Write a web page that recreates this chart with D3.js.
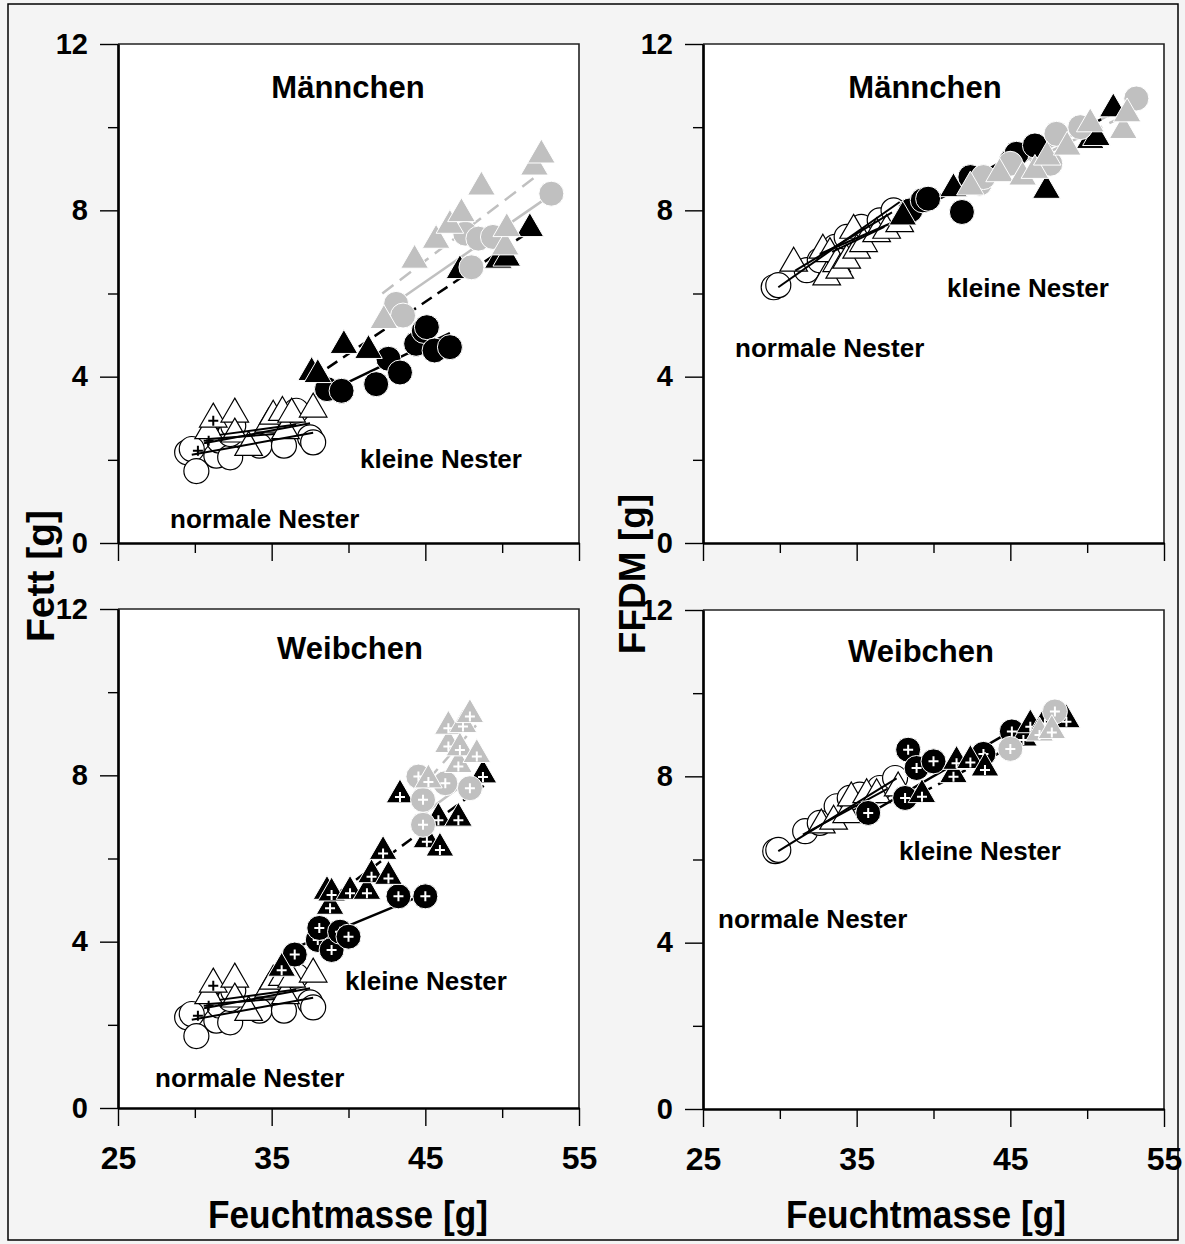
<!DOCTYPE html>
<html>
<head>
<meta charset="utf-8">
<script src="https://cdn.jsdelivr.net/npm/d3@7"></script>
<style>
  body { margin: 0; background: #f4f4f4; }
  svg text { font-family: "Liberation Sans", Arial, sans-serif; font-weight: bold; fill: #000; }
</style>
</head>
<body>
<svg id="chart" width="1185" height="1244"></svg>
<script>
// axis ticks
const xTicks = [25, 35, 45, 55];
const xMinor = [30, 40, 50];
const yTicks = [0, 4, 8, 12];
const yMinor = [2, 6, 10];

// ---- Männchen, Fett ----
const mFettNormCircles = [[29.5,2.18],[29.8,2.26],[30.1,1.73],[31.4,2.1],[31.6,2.46],[32.3,2.06],[32.3,2.62],[32.5,2.82],[34.2,2.34],[35.8,2.34],[36.6,3.18],[37.5,2.54],[37.7,2.42]];
const mFettNormTriangles = [[30.9,2.7],[31.2,2.98],[32.6,3.1],[32.6,2.62],[33.5,2.3],[34.8,2.86],[35.1,3.05],[35.7,3.14],[35.9,2.7],[36.3,3.1],[37.7,3.22]];
const mFettNormCrosses = [[30.2,2.22],[30.9,2.46],[31.2,2.94]];
const mFettNormLines = [[29.8,2.12,37.7,2.65],[30.6,2.4,37.5,2.88],[31.6,2.6,36.6,2.85],[30.9,2.5,35.2,2.62]];
const mFettBlackCircles = [[38.6,3.7],[39.55,3.66],[41.8,3.82],[42.6,4.43],[43.35,4.1],[44.4,4.79],[44.9,5.1],[45.1,5.19],[45.6,4.63],[46.6,4.71]];
const mFettBlackTriangles = [[37.6,4.1],[38.0,4.05],[39.7,4.75],[41.3,4.63],[47.25,6.55],[49.75,6.8],[50.3,6.85],[51.8,7.56]];
const mFettGrayCircles = [[43.1,5.75],[43.55,5.47],[47.6,7.44],[48.0,6.63],[48.45,7.32],[49.4,7.36],[53.2,8.4]];
const mFettGrayTriangles = [[42.3,5.35],[44.3,6.8],[45.7,7.28],[46.6,7.64],[47.35,7.92],[48.65,8.56],[50.2,7.12],[50.3,7.56],[52.1,9.04],[52.55,9.33]];
const mFettBlackCircleLine = [38.6,3.62,46.6,5.05];
const mFettBlackTriangleLine = [37.6,3.95,51.6,7.45];
const mFettGrayCircleLine = [43.5,5.9,52.9,8.3];
const mFettGrayTriangleLine = [42.2,6.0,52.5,8.9];

// ---- Männchen, FFDM ----
const mFfdmNormCircles = [[29.6,6.15],[29.9,6.2],[31.75,6.56],[32.6,6.8],[33.6,7.12],[34.35,7.36],[35.3,7.6],[36.5,7.76],[37.4,8.0]];
const mFfdmNormTriangles = [[30.9,6.73],[32.8,7.04],[33.05,6.4],[33.26,6.96],[33.7,6.72],[33.9,6.56],[34.35,6.8],[34.8,7.52],[35.0,7.04],[35.45,7.2],[36.3,7.44],[36.95,7.52],[37.8,7.68]];
const mFfdmNormLines = [[29.9,6.15,37.8,8.2],[31.0,6.55,37.3,7.95],[32.6,6.95,37.6,7.75],[33.4,7.0,36.8,7.6]];
const mFfdmBlackCircles = [[38.5,8.0],[39.3,8.24],[39.65,8.28],[41.85,7.96],[42.4,8.8],[45.1,9.2],[45.4,9.36],[46.6,9.56]];
const mFfdmBlackTriangles = [[38.0,7.84],[41.3,8.52],[45.0,9.04],[47.35,8.48],[50.2,9.68],[50.6,9.75],[51.7,10.44]];
const mFfdmGrayCircles = [[43.0,8.64],[43.25,8.8],[45.0,9.12],[47.6,9.12],[48.0,9.84],[49.55,10.0],[53.2,10.69]];
const mFfdmGrayTriangles = [[42.4,8.56],[44.3,8.88],[45.8,8.8],[46.6,8.96],[47.4,9.28],[48.7,9.52],[50.2,10.08],[52.35,9.92],[52.6,10.32]];
const mFfdmBlackCircleLine = [38.4,7.95,46.6,9.6];
const mFfdmBlackTriangleLine = [38.0,7.85,51.8,10.35];
const mFfdmGrayCircleLine = [43.0,8.6,53.2,10.65];
const mFfdmGrayTriangleLine = [42.4,8.5,52.6,10.3];

// ---- Weibchen, Fett (normal nests drawn the same as in the Männchen plot) ----
const fFettBlackCircles = [[36.5,3.69],[38.0,4.04],[38.1,4.33],[38.9,3.8],[39.45,4.24],[40.0,4.12],[43.25,5.09],[45.0,5.09]];
const fFettBlackTriangles = [[35.65,3.36],[38.6,5.21],[38.8,4.85],[38.9,5.17],[40.1,5.21],[41.2,5.21],[41.5,5.61],[42.25,6.17],[42.6,5.57],[43.35,7.53],[45.1,6.45],[45.85,6.97],[45.95,6.25],[47.15,6.97],[48.75,8.01]];
const fFettGrayCircles = [[44.55,7.97],[44.85,7.41],[44.85,6.81],[46.3,7.81],[47.9,7.69]];
const fFettGrayTriangles = [[45.2,7.89],[46.5,8.74],[46.5,9.18],[47.15,8.26],[47.25,8.66],[47.45,9.22],[47.9,9.46],[48.35,8.5]];
const fFettBlackCircleLine = [36.5,3.85,45.0,5.15];
const fFettBlackTriangleLine = [38.5,4.95,48.8,7.75];
const fFettGrayCircleLine = [44.6,7.0,47.9,7.9];
const fFettGrayTriangleLine = [45.2,7.9,48.3,9.2];

// ---- Weibchen, FFDM ----
const fFfdmNormCircles = [[29.7,6.2],[29.9,6.23],[31.65,6.68],[32.6,6.88],[33.7,7.28],[34.55,7.48],[35.2,7.56],[36.5,7.72],[37.5,7.96]];
const fFfdmNormTriangles = [[32.7,6.83],[33.5,6.92],[34.35,7.08],[34.65,7.48],[35.65,7.56],[36.3,7.56],[37.7,7.72]];
const fFfdmNormLines = [[29.9,6.2,37.6,7.95],[31.5,6.6,37.0,7.7]];
const fFfdmBlackCircles = [[35.75,7.12],[38.15,7.48],[38.35,8.64],[38.9,8.2],[40.0,8.36],[43.25,8.54],[45.1,9.08]];
const fFfdmBlackTriangles = [[39.25,7.56],[41.3,8.04],[41.5,8.36],[42.4,8.38],[43.35,8.2],[45.85,8.92],[46.3,9.24],[47.25,9.32],[48.65,9.36]];
const fFfdmGrayCircles = [[45.0,8.66],[47.9,9.56]];
const fFfdmGrayTriangles = [[46.9,9.04],[47.7,9.1]];
const fFfdmBlackCircleLine = [35.8,7.1,45.1,9.1];
const fFfdmBlackTriangleLine = [39.2,7.6,48.7,9.4];
const fFfdmGrayCircleLine = [45.0,8.7,47.9,9.5];
const fFfdmGrayTriangleLine = [45.5,8.7,48.2,9.2];

const GRAY = '#c0c0c0';

const svg = d3.select('#chart');

// page background and outer frame
svg.append('rect').attr('width', 1185).attr('height', 1244).attr('fill', '#f4f4f4');
svg.append('rect').attr('x', 8).attr('y', 4).attr('width', 1170).attr('height', 1236)
  .attr('fill', 'none').attr('stroke', '#000').attr('stroke-width', 1.5);

const panels = [
  { left: 118, right: 579, top: 44, bottom: 543, title: 'Männchen', showX: false,
    titlePos: [230, 54], smallPos: [242, 424], normPos: [52, 484], plus: false,
    normCircles: mFettNormCircles, normTriangles: mFettNormTriangles, normCrosses: mFettNormCrosses, normLines: mFettNormLines,
    blackCircles: mFettBlackCircles, blackTriangles: mFettBlackTriangles, grayCircles: mFettGrayCircles, grayTriangles: mFettGrayTriangles,
    lines: [mFettGrayCircleLine, mFettGrayTriangleLine, mFettBlackCircleLine, mFettBlackTriangleLine] },
  { left: 703, right: 1164, top: 44, bottom: 543, title: 'Männchen', showX: false,
    titlePos: [222, 54], smallPos: [244, 253], normPos: [32, 313], plus: false,
    normCircles: mFfdmNormCircles, normTriangles: mFfdmNormTriangles, normCrosses: [], normLines: mFfdmNormLines,
    blackCircles: mFfdmBlackCircles, blackTriangles: mFfdmBlackTriangles, grayCircles: mFfdmGrayCircles, grayTriangles: mFfdmGrayTriangles,
    lines: [mFfdmGrayCircleLine, mFfdmGrayTriangleLine, mFfdmBlackCircleLine, mFfdmBlackTriangleLine] },
  { left: 118, right: 579, top: 609, bottom: 1108, title: 'Weibchen', showX: true,
    titlePos: [232, 50], smallPos: [227, 381], normPos: [37, 478], plus: true,
    normCircles: mFettNormCircles, normTriangles: mFettNormTriangles, normCrosses: mFettNormCrosses, normLines: mFettNormLines,
    blackCircles: fFettBlackCircles, blackTriangles: fFettBlackTriangles, grayCircles: fFettGrayCircles, grayTriangles: fFettGrayTriangles,
    lines: [fFettGrayCircleLine, fFettGrayTriangleLine, fFettBlackCircleLine, fFettBlackTriangleLine] },
  { left: 703, right: 1164, top: 610, bottom: 1109, title: 'Weibchen', showX: true,
    titlePos: [218, 52], smallPos: [196, 250], normPos: [15, 318], plus: true,
    normCircles: fFfdmNormCircles, normTriangles: fFfdmNormTriangles, normCrosses: [], normLines: fFfdmNormLines,
    blackCircles: fFfdmBlackCircles, blackTriangles: fFfdmBlackTriangles, grayCircles: fFfdmGrayCircles, grayTriangles: fFfdmGrayTriangles,
    lines: [fFfdmGrayCircleLine, fFfdmGrayTriangleLine, fFfdmBlackCircleLine, fFfdmBlackTriangleLine] }
];

// style for the four small-nest regression lines (gray solid, gray dashed, black solid, black dashed)
const lineStyles = [
  { stroke: GRAY, dash: null },
  { stroke: GRAY, dash: '14,8' },
  { stroke: '#000', dash: null },
  { stroke: '#000', dash: '12,7' }
];

const tri = d3.symbol().type(d3.symbolTriangle).size(330);

panels.forEach(drawPanel);

function drawPanel(p) {
  const x = d3.scaleLinear().domain([25, 55]).range([p.left, p.right]);
  const y = d3.scaleLinear().domain([0, 12]).range([p.bottom, p.top]);
  const g = svg.append('g');

  // plot area
  g.append('rect').attr('x', p.left).attr('y', p.top)
    .attr('width', p.right - p.left).attr('height', p.bottom - p.top).attr('fill', '#fff');
  g.append('path')
    .attr('d', `M${p.left},${p.top}H${p.right}V${p.bottom}`)
    .attr('fill', 'none').attr('stroke', '#222').attr('stroke-width', 1.6);

  const plot = g.append('g');

  // normal nests: open markers
  plot.selectAll('.nc').data(p.normCircles).join('circle')
    .attr('cx', d => x(d[0])).attr('cy', d => y(d[1])).attr('r', 12.5)
    .attr('fill', '#fff').attr('stroke', '#000').attr('stroke-width', 1.2);
  plot.selectAll('.nt').data(p.normTriangles).join('path')
    .attr('transform', d => `translate(${x(d[0])},${y(d[1])})`).attr('d', tri)
    .attr('fill', '#fff').attr('stroke', '#000').attr('stroke-width', 1.2);
  plot.selectAll('.nx').data(p.normCrosses).join('path')
    .attr('d', d => `M${x(d[0]) - 5},${y(d[1])}h10M${x(d[0])},${y(d[1]) - 5}v10`)
    .attr('stroke', '#000').attr('stroke-width', 2);
  plot.selectAll('.nl').data(p.normLines).join('line')
    .attr('x1', d => x(d[0])).attr('y1', d => y(d[1]))
    .attr('x2', d => x(d[2])).attr('y2', d => y(d[3]))
    .attr('stroke', '#000').attr('stroke-width', 2);

  // small nests: regression lines
  p.lines.forEach((l, i) => {
    plot.append('line')
      .attr('x1', x(l[0])).attr('y1', y(l[1])).attr('x2', x(l[2])).attr('y2', y(l[3]))
      .attr('stroke', lineStyles[i].stroke).attr('stroke-width', 2.5)
      .attr('stroke-dasharray', lineStyles[i].dash);
  });

  // small nests: filled markers
  const groups = [
    { data: p.blackCircles, fill: '#000', shape: 'c' },
    { data: p.blackTriangles, fill: '#000', shape: 't' },
    { data: p.grayCircles, fill: GRAY, shape: 'c' },
    { data: p.grayTriangles, fill: GRAY, shape: 't' }
  ];
  groups.forEach(s => {
    const m = plot.append('g').selectAll('g').data(s.data).join('g')
      .attr('transform', d => `translate(${x(d[0])},${y(d[1])})`);
    if (s.shape === 'c') {
      m.append('circle').attr('r', 12.5);
    } else {
      m.append('path').attr('d', tri);
    }
    m.select(':first-child').attr('fill', s.fill).attr('stroke', '#fff').attr('stroke-width', 1);
    if (p.plus) {
      const dy = s.shape === 't' ? 2 : 0;
      m.append('path').attr('d', `M-5,${dy}h10M0,${dy - 5}v10`)
        .attr('stroke', '#fff').attr('stroke-width', 2);
    }
  });

  // axes
  const yAxis = g.append('g').attr('transform', `translate(${p.left},0)`)
    .call(d3.axisLeft(y).tickValues(yTicks).tickSize(18).tickPadding(12).tickSizeOuter(0));
  const yAxisMinor = g.append('g').attr('transform', `translate(${p.left},0)`)
    .call(d3.axisLeft(y).tickValues(yMinor).tickSize(10).tickFormat('').tickSizeOuter(0));
  const xAxis = g.append('g').attr('transform', `translate(0,${p.bottom})`)
    .call(d3.axisBottom(x).tickValues(xTicks).tickSize(18).tickPadding(20).tickSizeOuter(0)
      .tickFormat(p.showX ? d3.format('d') : ''));
  const xAxisMinor = g.append('g').attr('transform', `translate(0,${p.bottom})`)
    .call(d3.axisBottom(x).tickValues(xMinor).tickSize(10).tickFormat('').tickSizeOuter(0));

  [yAxis, yAxisMinor, xAxis, xAxisMinor].forEach(a => {
    a.select('.domain').attr('stroke', '#000').attr('stroke-width', 2.2);
    a.selectAll('.tick line').attr('stroke', '#000').attr('stroke-width', 1.4);
  });
  yAxis.selectAll('text').style('font-size', '29px').attr('fill', '#000');
  xAxis.selectAll('text').style('font-size', '32px').attr('fill', '#000');

  // panel texts
  g.append('text').attr('x', p.left + p.titlePos[0]).attr('y', p.top + p.titlePos[1])
    .attr('text-anchor', 'middle').style('font-size', '31px').text(p.title);
  g.append('text').attr('x', p.left + p.smallPos[0]).attr('y', p.top + p.smallPos[1])
    .style('font-size', '26px').text('kleine Nester');
  g.append('text').attr('x', p.left + p.normPos[0]).attr('y', p.top + p.normPos[1])
    .style('font-size', '26px').text('normale Nester');
}

// axis titles
svg.append('text').attr('transform', 'translate(54,576) rotate(-90)')
  .attr('text-anchor', 'middle').style('font-size', '39px').text('Fett [g]');
svg.append('text').attr('transform', 'translate(645,574) rotate(-90)')
  .attr('text-anchor', 'middle').style('font-size', '37px').text('FFDM [g]');
svg.append('text').attr('x', 348).attr('y', 1228)
  .attr('text-anchor', 'middle').attr('textLength', 280).attr('lengthAdjust', 'spacingAndGlyphs')
  .style('font-size', '38px').text('Feuchtmasse [g]');
svg.append('text').attr('x', 926).attr('y', 1228)
  .attr('text-anchor', 'middle').attr('textLength', 280).attr('lengthAdjust', 'spacingAndGlyphs')
  .style('font-size', '38px').text('Feuchtmasse [g]');
</script>
</body>
</html>
